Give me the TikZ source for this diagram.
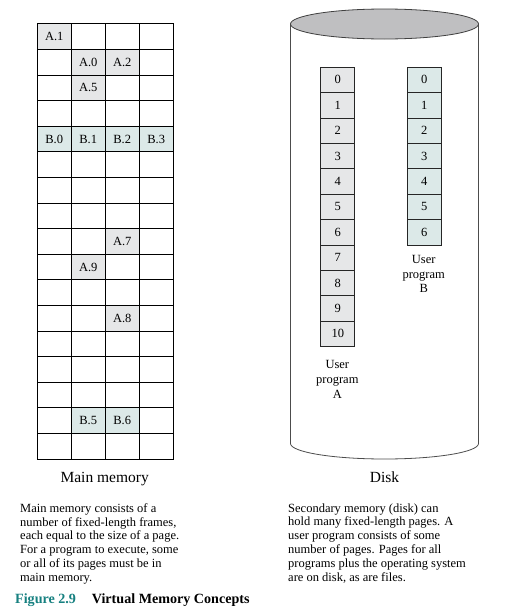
\documentclass[tikz,border=0pt]{standalone}
\usepackage{fontspec}
\setmainfont{Liberation Serif}
\usepackage{xcolor}
\definecolor{pageA}{RGB}{230,231,232}
\definecolor{pageB}{RGB}{220,233,232}
\definecolor{diskTop}{RGB}{191,191,193}
\definecolor{figTeal}{RGB}{22,128,128}

\begin{document}
\begin{tikzpicture}[x=1pt, y=-1pt,
  frame/.style={draw=black, line width=1.1pt, minimum width=34pt, minimum height=25.6pt,
    inner sep=0pt, anchor=north west, font=\fontsize{12.5}{14}\selectfont},
  diskpage/.style={draw=black!85, line width=0.9pt, minimum width=34pt, minimum height=25.4pt,
    inner sep=0pt, anchor=north west, font=\fontsize{12.5}{14}\selectfont},
  heading/.style={font=\fontsize{15.5}{18}\selectfont, inner sep=0pt, anchor=base},
  progname/.style={font=\fontsize{12.5}{14.7}\selectfont, align=center, inner sep=0pt, anchor=north},
  blurb/.style={font=\fontsize{12.5}{13.8}\selectfont, align=left, inner sep=0pt, anchor=north west},
  captext/.style={font=\fontsize{14.1}{16}\bfseries, inner sep=0pt, anchor=base west}]
\useasboundingbox (0,0) rectangle (527,616);

% Main memory: 17 rows of 4 frames
\foreach \r in {0,...,16} {
\foreach \c in {0,...,3} {
    \node[frame] (f-\r-\c) at ({36.7+34*\c}, {23.3+25.6*\r}) {};
}
}

% Frames holding pages of A and B
\foreach \r/\c/\pg/\col in {0/0/A.1/pageA, 1/1/A.0/pageA, 1/2/A.2/pageA, 2/1/A.5/pageA,
  4/0/B.0/pageB, 4/1/B.1/pageB, 4/2/B.2/pageB, 4/3/B.3/pageB,
  8/2/A.7/pageA, 9/1/A.9/pageA, 11/2/A.8/pageA, 15/1/B.5/pageB, 15/2/B.6/pageB} {
    \node[frame, fill=\col] (occ-\r-\c) at ({36.7+34*\c}, {23.3+25.6*\r}) {\pg};
}

\node[heading] (mmlabel) at (104.7, 482.7) {Main memory};

% Disk cylinder
\draw[draw=black!70, line width=0.8pt] (290.5,24) -- (290.5,443.5)
  arc[start angle=180, end angle=0, x radius=94, y radius=15.5] -- (478.5,24);
\draw[draw=black!75, line width=0.8pt, fill=diskTop] (384.5,24) ellipse[x radius=94, y radius=15];

% User program A (11 pages) and B (7 pages)
\foreach \i in {0,...,10} {
    \node[diskpage, fill=pageA] (pa-\i) at (320.3, {66.7+25.4*\i}) {\i};
}
\foreach \i in {0,...,6} {
    \node[diskpage, fill=pageB] (pb-\i) at (406.7, {66.7+25.4*\i}) {\i};
}
\node[progname] (proga) at (337.3, 360.3) {User\\program\\A};
\node[progname] (progb) at (423.7, 255) {User\\program\\B};

\node[heading] (disklabel) at (384.5, 482.7) {Disk};

% Descriptions
\node[blurb] (mmtext) at (20, 503.2) {Main memory consists of a\\
  number of fixed-length frames,\\
  each equal to the size of a page.\\
  For a program to execute, some\\
  or all of its pages must be in\\
  main memory.};
\node[blurb] (disktext) at (288, 503.2) {Secondary memory (disk) can\\
  hold many fixed-length pages. A\\
  user program consists of some\\
  number of pages. Pages for all\\
  programs plus the operating system\\
  are on disk, as are files.};

% Caption
\node[captext] (fignum) at (15, 603.5) {\textcolor{figTeal}{Figure 2.9}};
\node[captext] (figtitle) at (91.7, 603.5) {Virtual Memory Concepts};
\end{tikzpicture}
\end{document}
